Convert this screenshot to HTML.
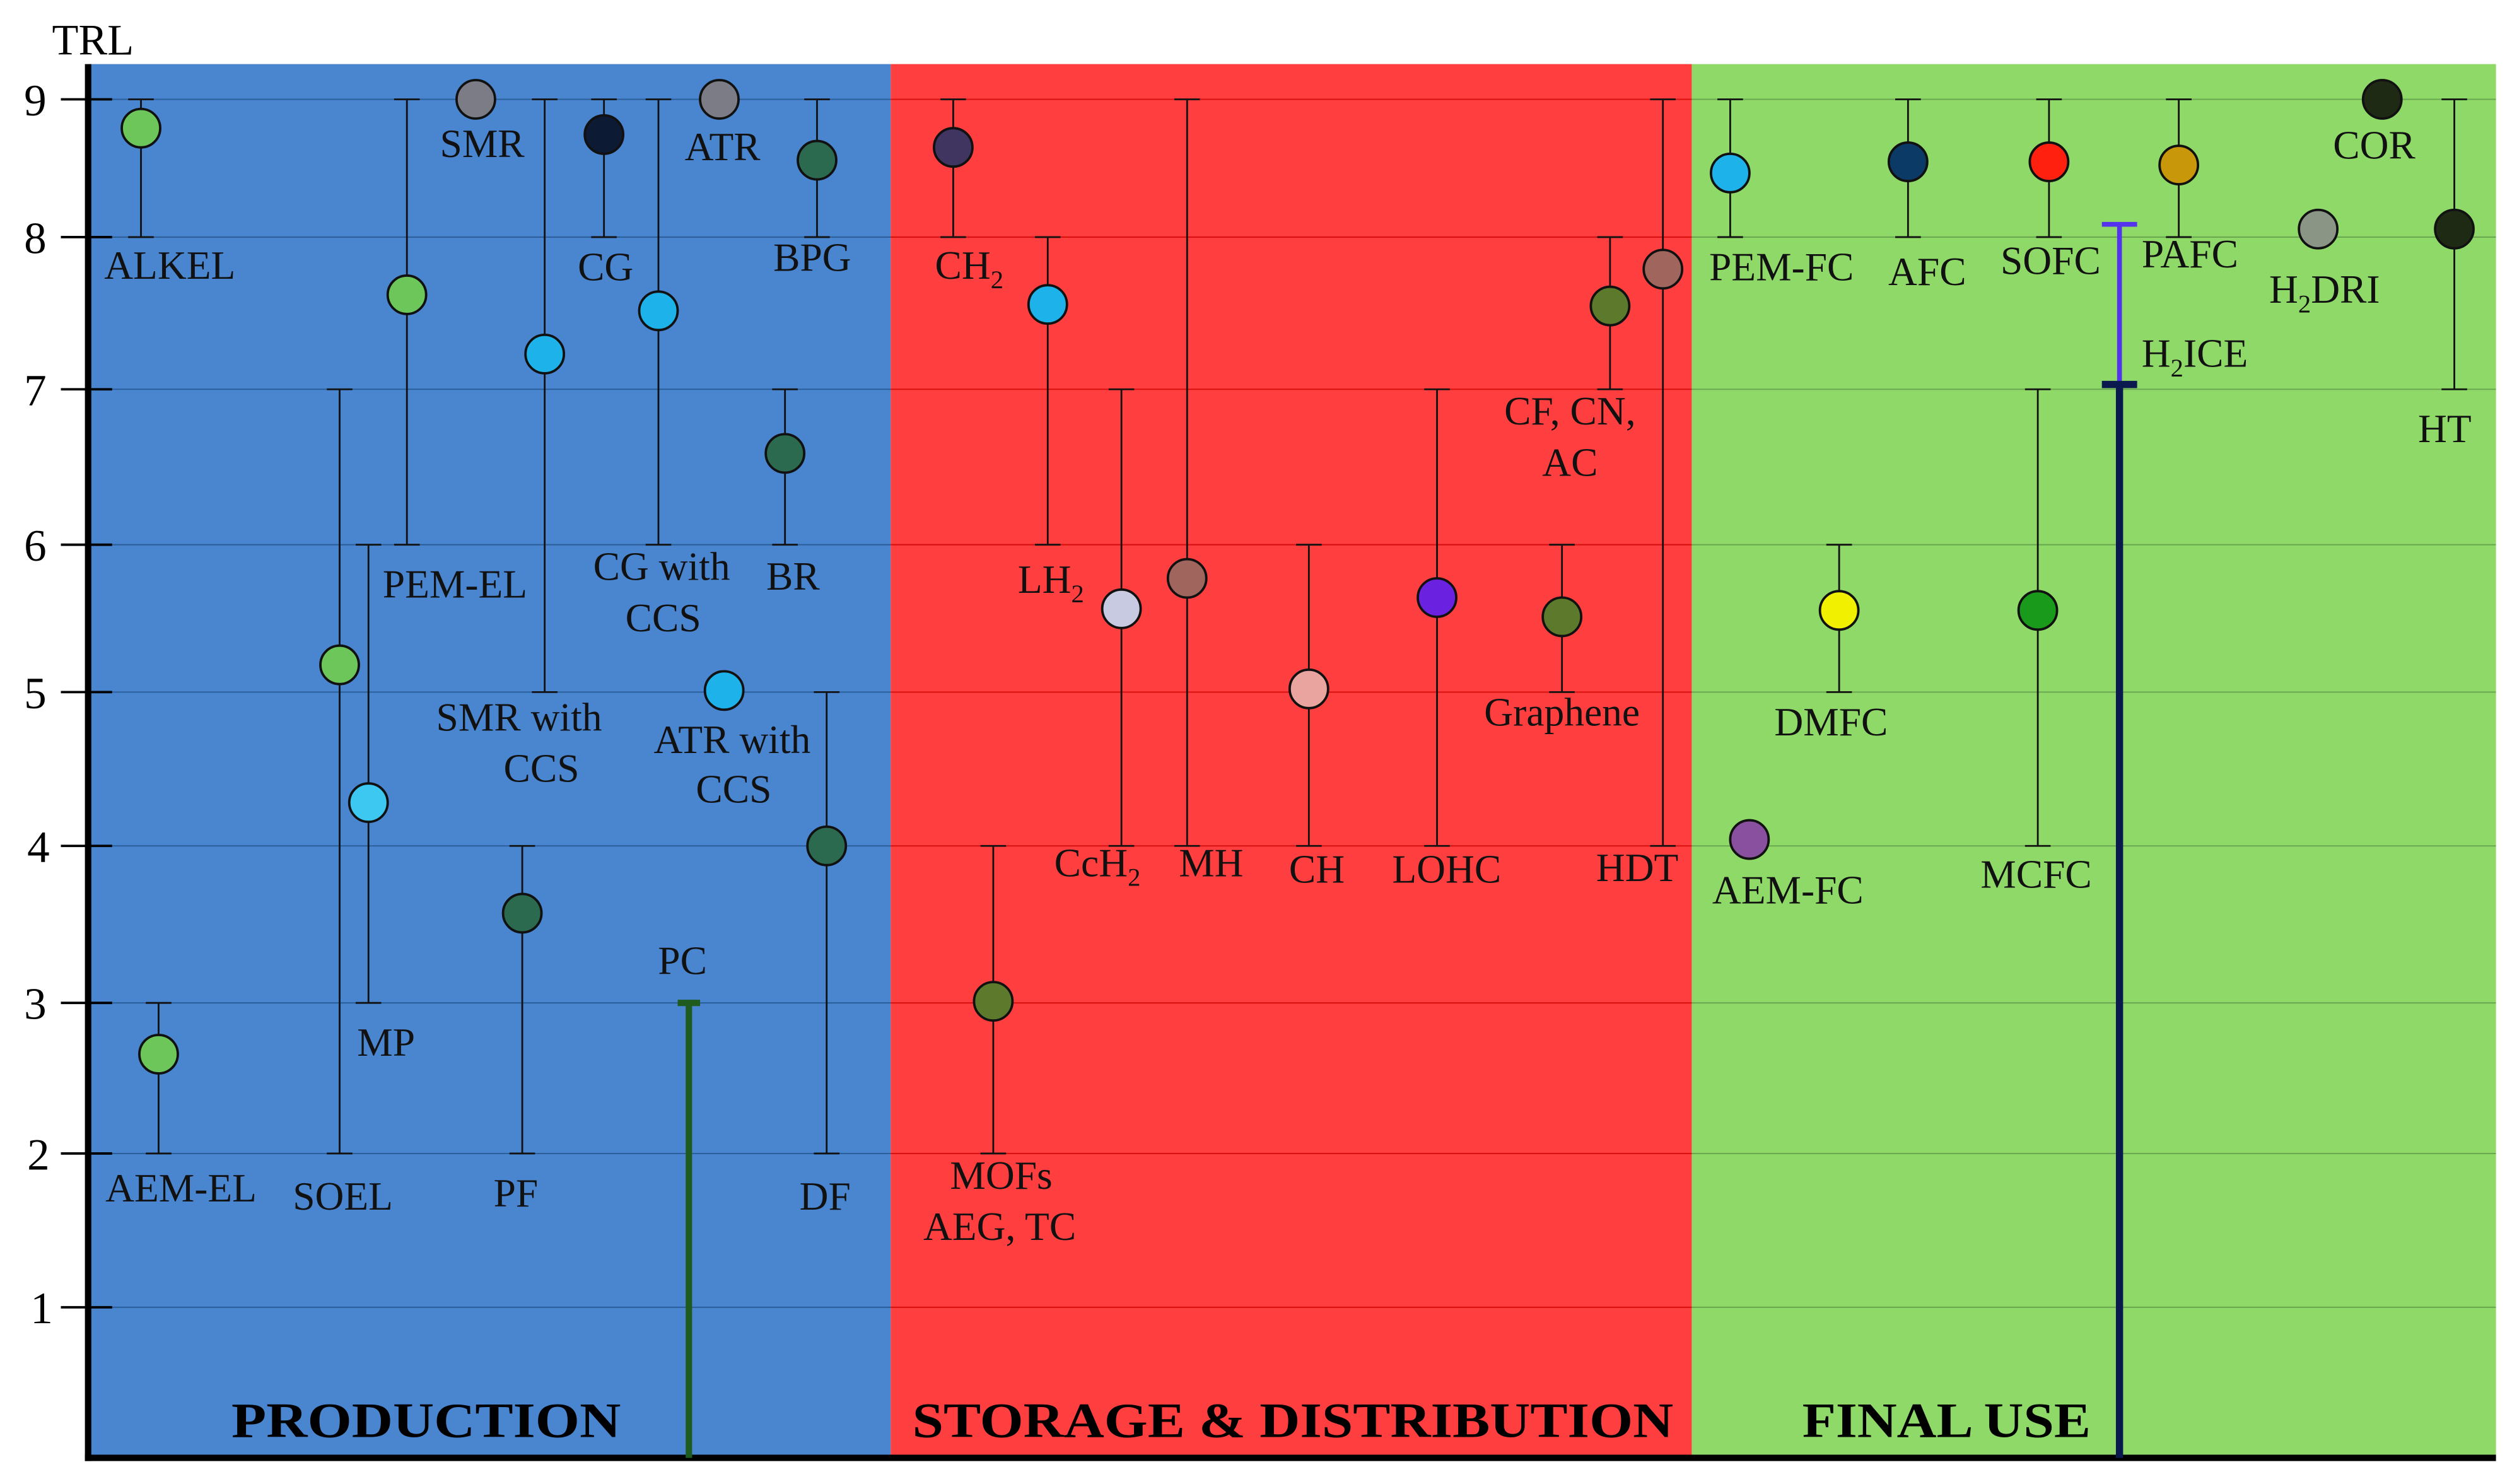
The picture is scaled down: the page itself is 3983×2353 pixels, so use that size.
<!DOCTYPE html>
<html><head><meta charset="utf-8"><style>html,body{margin:0;padding:0;background:#fff}svg{display:block}</style></head><body>
<svg width="3983" height="2353" viewBox="0 0 1568 926.3" preserveAspectRatio="none" xmlns="http://www.w3.org/2000/svg" font-family="'Liberation Serif',serif">
<rect x="0" y="0" width="1568" height="927" fill="#fff"/>
<rect x="55" y="40" width="501" height="870" fill="#4a86d0"/>
<rect x="556" y="40" width="500" height="870" fill="#ff3f3f"/>
<rect x="1056" y="40" width="502" height="870" fill="#8fd968"/>
<g stroke-width="0.8">
<g stroke="#2a5f9a"><line x1="55" x2="556" y1="62" y2="62"/><line x1="55" x2="556" y1="148" y2="148"/><line x1="55" x2="556" y1="243" y2="243"/><line x1="55" x2="556" y1="340" y2="340"/><line x1="55" x2="556" y1="432" y2="432"/><line x1="55" x2="556" y1="528" y2="528"/><line x1="55" x2="556" y1="626" y2="626"/><line x1="55" x2="556" y1="720" y2="720"/><line x1="55" x2="556" y1="816" y2="816"/></g>
<g stroke="#d81010"><line x1="556" x2="1056" y1="62" y2="62"/><line x1="556" x2="1056" y1="148" y2="148"/><line x1="556" x2="1056" y1="243" y2="243"/><line x1="556" x2="1056" y1="340" y2="340"/><line x1="556" x2="1056" y1="432" y2="432"/><line x1="556" x2="1056" y1="528" y2="528"/><line x1="556" x2="1056" y1="626" y2="626"/><line x1="556" x2="1056" y1="720" y2="720"/><line x1="556" x2="1056" y1="816" y2="816"/></g>
<g stroke="#6aa850"><line x1="1056" x2="1558" y1="62" y2="62"/><line x1="1056" x2="1558" y1="148" y2="148"/><line x1="1056" x2="1558" y1="243" y2="243"/><line x1="1056" x2="1558" y1="340" y2="340"/><line x1="1056" x2="1558" y1="432" y2="432"/><line x1="1056" x2="1558" y1="528" y2="528"/><line x1="1056" x2="1558" y1="626" y2="626"/><line x1="1056" x2="1558" y1="720" y2="720"/><line x1="1056" x2="1558" y1="816" y2="816"/></g>
</g>
<g stroke="#000">
<line x1="55" y1="40" x2="55" y2="912" stroke-width="4"/>
<line x1="53" y1="910" x2="1558" y2="910" stroke-width="4"/>
<g stroke-width="1.5"><line x1="38" x2="70" y1="62" y2="62"/><line x1="38" x2="70" y1="148" y2="148"/><line x1="38" x2="70" y1="243" y2="243"/><line x1="38" x2="70" y1="340" y2="340"/><line x1="38" x2="70" y1="432" y2="432"/><line x1="38" x2="70" y1="528" y2="528"/><line x1="38" x2="70" y1="626" y2="626"/><line x1="38" x2="70" y1="720" y2="720"/><line x1="38" x2="70" y1="816" y2="816"/></g>
</g>
<g font-size="28" fill="#000" text-anchor="middle" font-family="'Liberation Serif',serif">
<text x="58" y="34" font-size="27">TRL</text>
<text x="22" y="72">9</text><text x="22" y="158">8</text><text x="22" y="253">7</text><text x="22" y="350">6</text><text x="22" y="442">5</text><text x="24" y="538">4</text><text x="22" y="636">3</text><text x="24" y="730">2</text><text x="26" y="826">1</text>
</g>
<g stroke="#111" stroke-width="1.1" fill="none">
<path d="M88 62V148M80 62H96M80 148H96"/>
<path d="M99 626V720M91 626H107M91 720H107"/>
<path d="M254 62V340M246 62H262M246 340H262"/>
<path d="M212 243V720M204 243H220M204 720H220"/>
<path d="M230 340V626M222 340H238M222 626H238"/>
<path d="M340 62V432M332 62H348M332 432H348"/>
<path d="M377 62V148M369 62H385M369 148H385"/>
<path d="M411 62V340M403 62H419M403 340H419"/>
<path d="M510 62V148M502 62H518M502 148H518"/>
<path d="M490 243V340M482 243H498M482 340H498"/>
<path d="M326 528V720M318 528H334M318 720H334"/>
<path d="M516 432V720M508 432H524M508 720H524"/>
<path d="M595 62V148M587 62H603M587 148H603"/>
<path d="M654 148V340M646 148H662M646 340H662"/>
<path d="M700 243V528M692 243H708M692 528H708"/>
<path d="M741 62V528M733 62H749M733 528H749"/>
<path d="M817 340V528M809 340H825M809 528H825"/>
<path d="M897 243V528M889 243H905M889 528H905"/>
<path d="M620 528V720M612 528H628M612 720H628"/>
<path d="M975 340V432M967 340H983M967 432H983"/>
<path d="M1005 148V243M997 148H1013M997 243H1013"/>
<path d="M1038 62V528M1030 62H1046M1030 528H1046"/>
<path d="M1080 62V148M1072 62H1088M1072 148H1088"/>
<path d="M1191 62V148M1183 62H1199M1183 148H1199"/>
<path d="M1279 62V148M1271 62H1287M1271 148H1287"/>
<path d="M1360 62V148M1352 62H1368M1352 148H1368"/>
<path d="M1532 62V243M1524 62H1540M1524 243H1540"/>
<path d="M1148 340V432M1140 340H1156M1140 432H1156"/>
<path d="M1272 243V528M1264 243H1280M1264 528H1280"/>
</g>
<path d="M430 626V910M423 626H437" stroke="#1f5a1f" stroke-width="4" fill="none"/>
<path d="M1323 140V243M1312 140H1334" stroke="#5533ee" stroke-width="3" fill="none"/>
<path d="M1323 240V910M1312 240H1334" stroke="#0a1a4e" stroke-width="4.5" fill="none"/>
<g stroke="#111" stroke-width="1.5">
<circle cx="88" cy="80" r="12" fill="#6cc65a"/>
<circle cx="99" cy="658" r="12" fill="#6cc65a"/>
<circle cx="297" cy="62" r="12" fill="#7c7c86"/>
<circle cx="254" cy="184" r="12" fill="#6cc65a"/>
<circle cx="212" cy="415" r="12" fill="#6cc65a"/>
<circle cx="230" cy="501" r="12" fill="#3cc8f0"/>
<circle cx="340" cy="221" r="12" fill="#1eb2ea"/>
<circle cx="377" cy="84" r="12" fill="#0d1a33"/>
<circle cx="411" cy="194" r="12" fill="#1eb2ea"/>
<circle cx="449" cy="62" r="12" fill="#7c7c86"/>
<circle cx="452" cy="431" r="12" fill="#1eb2ea"/>
<circle cx="510" cy="100" r="12" fill="#2c6a50"/>
<circle cx="490" cy="283" r="12" fill="#2c6a50"/>
<circle cx="326" cy="570" r="12" fill="#2c6a50"/>
<circle cx="516" cy="528" r="12" fill="#2c6a50"/>
<circle cx="595" cy="92" r="12" fill="#3f3560"/>
<circle cx="654" cy="190" r="12" fill="#1eb2ea"/>
<circle cx="700" cy="380" r="12" fill="#c8cae2"/>
<circle cx="741" cy="361" r="12" fill="#a0665e"/>
<circle cx="817" cy="430" r="12" fill="#eaa4a0"/>
<circle cx="897" cy="373" r="12" fill="#6a22e0"/>
<circle cx="620" cy="625" r="12" fill="#5d7a2c"/>
<circle cx="975" cy="385" r="12" fill="#5d7a2c"/>
<circle cx="1005" cy="191" r="12" fill="#5d7a2c"/>
<circle cx="1038" cy="168" r="12" fill="#a0665e"/>
<circle cx="1080" cy="108" r="12" fill="#1eb2ea"/>
<circle cx="1191" cy="101" r="12" fill="#0c3a66"/>
<circle cx="1279" cy="101" r="12" fill="#ff2010"/>
<circle cx="1360" cy="103" r="12" fill="#c8980a"/>
<circle cx="1487" cy="62" r="12" fill="#1f2a14"/>
<circle cx="1447" cy="143" r="12" fill="#8a9585"/>
<circle cx="1532" cy="143" r="12" fill="#1f2a14"/>
<circle cx="1148" cy="381" r="12" fill="#f0f000"/>
<circle cx="1272" cy="381" r="12" fill="#1a9a1a"/>
<circle cx="1092" cy="524" r="12" fill="#8a50a0"/>
</g>
<g font-size="25" fill="#111" text-anchor="middle">
<text x="106" y="174">ALKEL</text>
<text x="113" y="750">AEM-EL</text>
<text x="301" y="98">SMR</text>
<text x="284" y="373">PEM-EL</text>
<text x="214" y="755">SOEL</text>
<text x="241" y="659">MP</text>
<text x="324" y="456">SMR with</text><text x="338" y="488">CCS</text>
<text x="378" y="175">CG</text>
<text x="413" y="362">CG with</text><text x="414" y="394">CCS</text>
<text x="451" y="100">ATR</text>
<text x="457" y="470">ATR with</text><text x="458" y="501">CCS</text>
<text x="507" y="169">BPG</text>
<text x="495" y="368">BR</text>
<text x="322" y="753">PF</text>
<text x="515" y="755">DF</text>
<text x="426" y="608">PC</text>
<text x="605" y="174">CH<tspan font-size="16" dy="6">2</tspan></text>
<text x="656" y="370">LH<tspan font-size="16" dy="6">2</tspan></text>
<text x="685" y="547">CcH<tspan font-size="16" dy="6">2</tspan></text>
<text x="756" y="547">MH</text>
<text x="822" y="551">CH</text>
<text x="903" y="551">LOHC</text>
<text x="625" y="742">MOFs</text><text x="624" y="774">AEG, TC</text>
<text x="975" y="453">Graphene</text>
<text x="980" y="265">CF, CN,</text><text x="980" y="297">AC</text>
<text x="1022" y="550">HDT</text>
<text x="1112" y="175">PEM-FC</text>
<text x="1203" y="178">AFC</text>
<text x="1280" y="171">SOFC</text>
<text x="1367" y="167">PAFC</text>
<text x="1482" y="99">COR</text>
<text x="1451" y="189">H<tspan font-size="16" dy="6">2</tspan><tspan dy="-6">DRI</tspan></text>
<text x="1526" y="276">HT</text>
<text x="1370" y="229">H<tspan font-size="16" dy="6">2</tspan><tspan dy="-6">ICE</tspan></text>
<text x="1143" y="459">DMFC</text>
<text x="1271" y="554">MCFC</text>
<text x="1116" y="564">AEM-FC</text>
</g>
<g font-size="31" font-weight="bold" fill="#000" text-anchor="middle">
<text x="266" y="897" textLength="243" lengthAdjust="spacingAndGlyphs">PRODUCTION</text>
<text x="807" y="897" textLength="475" lengthAdjust="spacingAndGlyphs">STORAGE &amp; DISTRIBUTION</text>
<text x="1215" y="897" textLength="180" lengthAdjust="spacingAndGlyphs">FINAL USE</text>
</g>
</svg>
</body></html>
